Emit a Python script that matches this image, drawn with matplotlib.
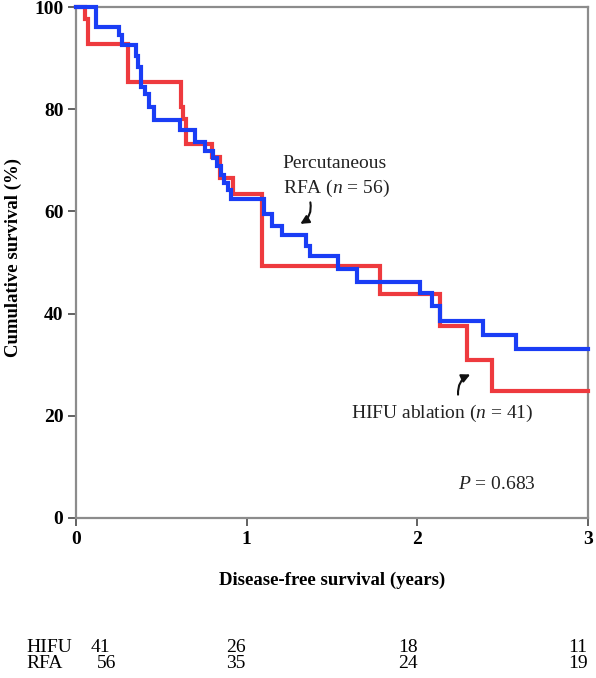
import matplotlib
matplotlib.use('Agg')
import matplotlib.pyplot as plt
from matplotlib.transforms import blended_transform_factory

plt.rcParams['font.family'] = ['Liberation Serif', 'DejaVu Serif']
plt.rcParams['mathtext.fontset'] = 'custom'
plt.rcParams['mathtext.rm'] = 'Liberation Serif'
plt.rcParams['mathtext.it'] = 'Liberation Serif:italic'

# ---- data ----
hifu_t = [0, 0.05, 0.07, 0.305, 0.615, 0.625, 0.645, 0.795, 0.845, 0.92,
          1.09, 1.78, 2.13, 2.29, 2.44]
hifu_s = [100, 97.6, 92.7, 85.4, 80.5, 78.0, 73.2, 70.7, 66.5, 63.4,
          49.3, 43.9, 37.6, 31.0, 24.8]
rfa_t = [0, 0.117, 0.254, 0.268, 0.35, 0.365, 0.379, 0.404, 0.43, 0.455,
         0.609, 0.697, 0.756, 0.80, 0.824, 0.848, 0.867, 0.892, 0.91,
         1.10, 1.146, 1.205, 1.35, 1.37, 1.535, 1.645,
         2.015, 2.085, 2.13, 2.385, 2.58]
rfa_s = [100, 96.1, 94.5, 92.5, 90.5, 88.2, 84.3, 83.0, 80.4, 77.8,
         75.9, 73.6, 71.9, 70.4, 68.8, 67.2, 65.5, 64.1, 62.5,
         59.5, 57.1, 55.3, 53.2, 51.2, 48.8, 46.2,
         44.0, 41.4, 38.6, 35.8, 33.0]
t_max = 3.0

risk_groups = ['HIFU', 'RFA']
risk_hifu = [41, 26, 18, 11]
risk_rfa = [56, 35, 24, 19]

x_ticks = [0, 1, 2, 3]
y_ticks = [0, 20, 40, 60, 80, 100]

RED = '#EE3A3E'
BLUE = '#1A3DF5'
GRAY = '#8C8C8C'

fig = plt.figure(figsize=(5.96, 6.78), dpi=100)
ax = fig.add_axes([76/596, 1-518/678, 512/596, 511/678])

ax.step(hifu_t + [t_max], hifu_s + [hifu_s[-1]], where='post', color=RED,
        lw=3.0, clip_on=False, zorder=3, solid_joinstyle='miter')
ax.step(rfa_t + [t_max], rfa_s + [rfa_s[-1]], where='post', color=BLUE,
        lw=3.0, clip_on=False, zorder=4, solid_joinstyle='miter')

ax.set_xlim(0, 3)
ax.set_ylim(0, 100)
ax.set_xticks(x_ticks)
ax.set_yticks(y_ticks)
for sp in ax.spines.values():
    sp.set_color(GRAY)
    sp.set_linewidth(1.6)
    sp.set_zorder(2)
ax.tick_params(direction='out', length=6, width=1.3, color='#555555',
               labelsize=14, pad=3)
for lbl in ax.get_xticklabels() + ax.get_yticklabels():
    lbl.set_fontweight('bold')

fig.text(13/596, 1-258/678, 'Cumulative survival (%)', rotation=90,
         ha='center', va='center', fontsize=13.5, fontweight='bold')
fig.text(332/596, 1-580/678, 'Disease-free survival (years)',
         ha='center', va='center', fontsize=13.5, fontweight='bold')

# annotations
ax.text(1.21, 69.3, 'Percutaneous', fontsize=14, ha='left', va='center', color='#222222')
ax.text(1.21, 64.5, 'RFA ($n$ = 56)', fontsize=14, ha='left', va='center', color='#222222')
ax.annotate('', xy=(1.30, 57.3), xytext=(1.37, 62.3),
            arrowprops=dict(arrowstyle='-|>,head_length=0.5,head_width=0.25',
                            color='#111111', lw=1.5,
                            connectionstyle='arc3,rad=-0.4'))
ax.text(1.61, 20.4, 'HIFU ablation ($n$ = 41)', fontsize=14, ha='left', va='center', color='#222222')
ax.annotate('', xy=(2.325, 28.3), xytext=(2.24, 23.6),
            arrowprops=dict(arrowstyle='-|>,head_length=0.5,head_width=0.25',
                            color='#111111', lw=1.5,
                            connectionstyle='arc3,rad=-0.4'))
ax.text(2.24, 6.5, '$P$ = 0.683', fontsize=14, ha='left', va='center', color='#222222')

# number at risk
trans = blended_transform_factory(ax.transData, fig.transFigure)
row_y = [1-647/678, 1-664/678]
fig.text(26/596, row_y[0], risk_groups[0], fontsize=14, ha='left', va='center')
fig.text(26/596, row_y[1], risk_groups[1], fontsize=14, ha='left', va='center')
hifu_x = [0.146, 0.937, 1.945, 2.94]
rfa_x = [0.18, 0.937, 1.945, 2.94]
for xv, n in zip(hifu_x, risk_hifu):
    fig.text(xv, row_y[0], str(n), transform=trans, fontsize=14, ha='center', va='center')
for xv, n in zip(rfa_x, risk_rfa):
    fig.text(xv, row_y[1], str(n), transform=trans, fontsize=14, ha='center', va='center')

fig.savefig('out.png', dpi=100)
